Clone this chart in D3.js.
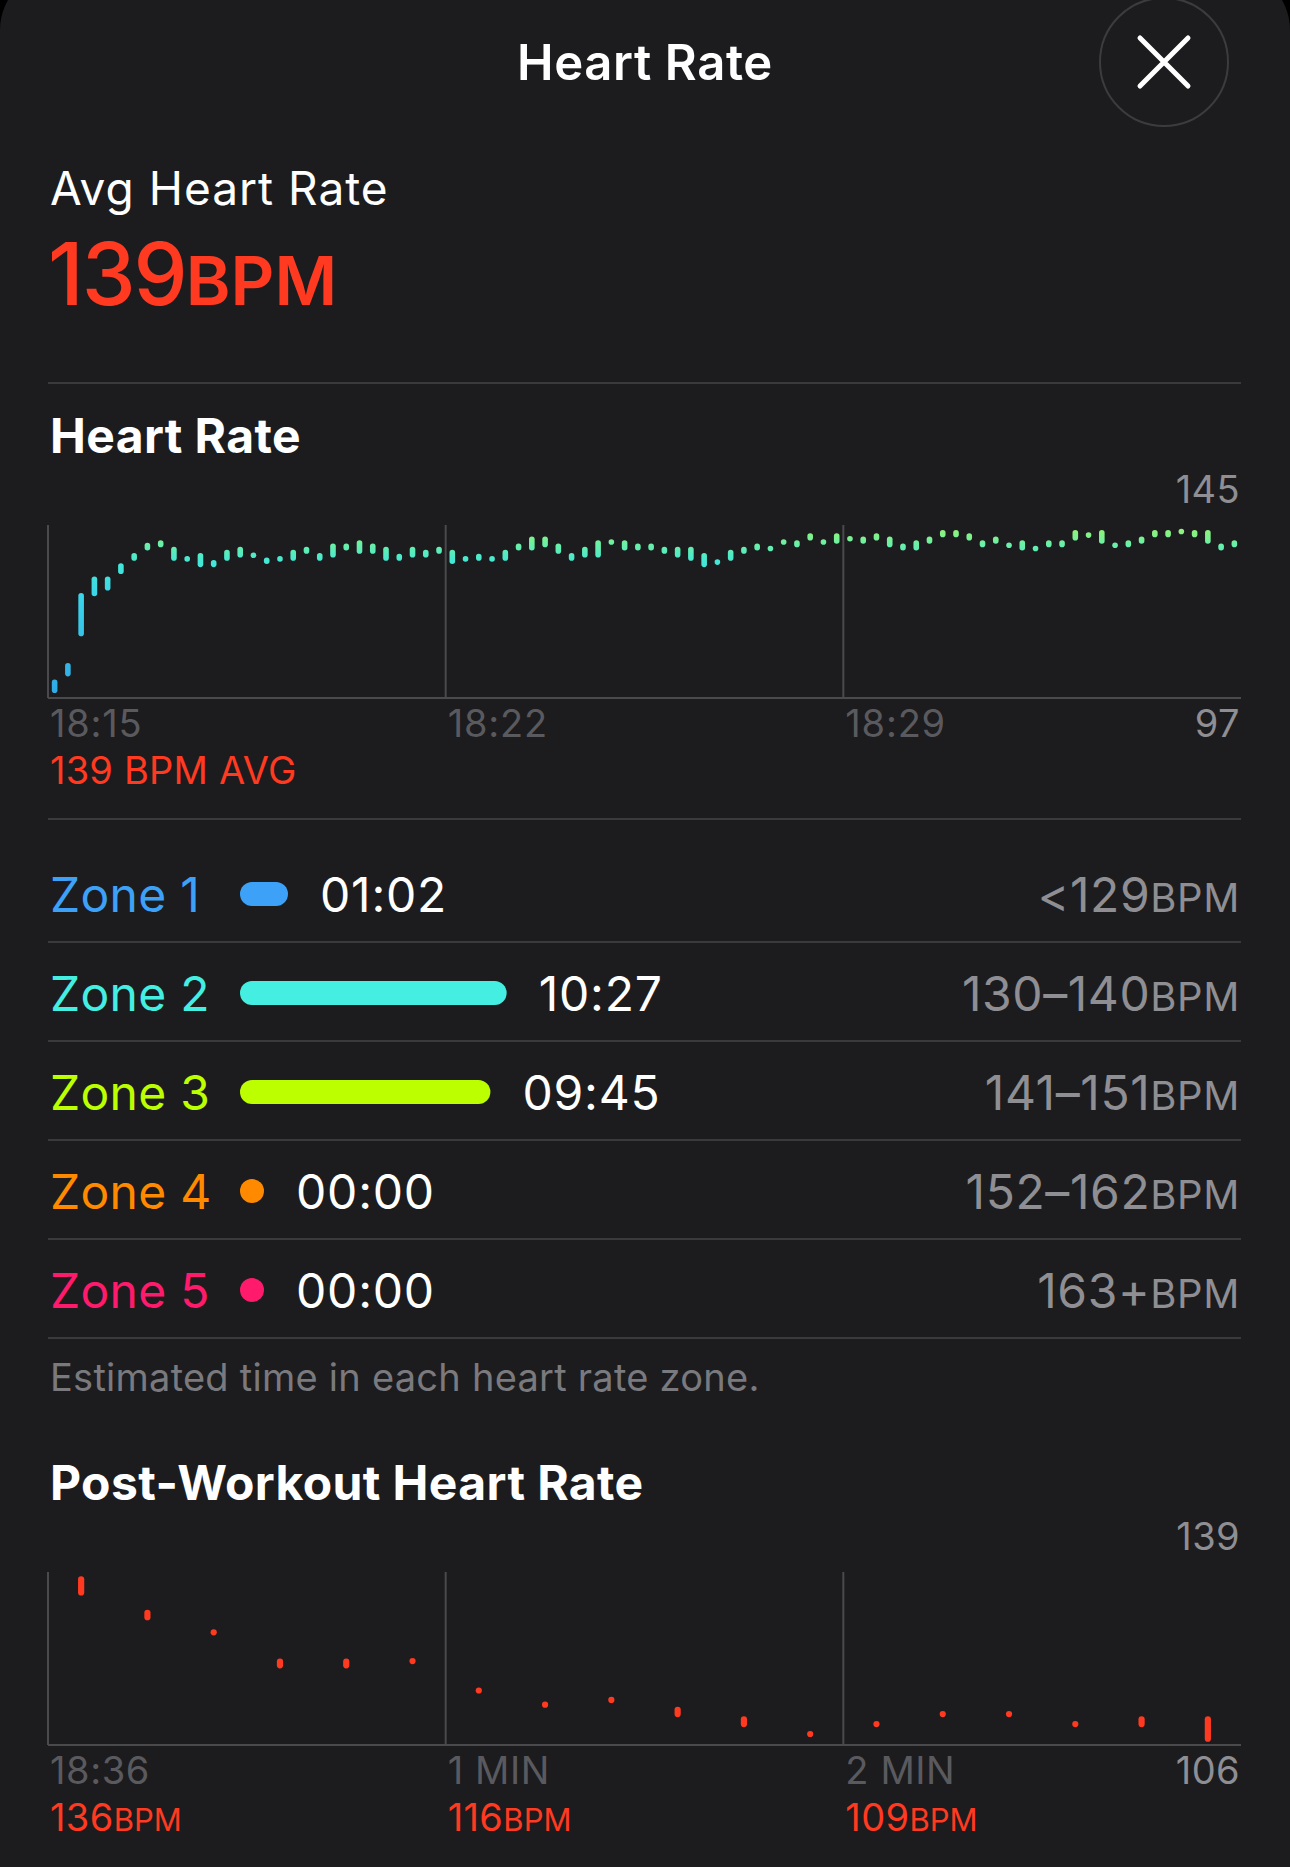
<!DOCTYPE html>
<html>
<head>
<meta charset="utf-8">
<script src="https://cdn.jsdelivr.net/npm/d3@7"></script>
<style>
  html, body { margin: 0; padding: 0; background: #000; }
  svg { display: block; }
  text { font-family: Inter, "Noto Sans", "DejaVu Sans", sans-serif; }
</style>
</head>
<body>
<svg id="chart" width="1290" height="1867"></svg>
<script>
// ---------------- DATA ----------------
const avgHeartRate = 139;
const hrMax = 145, hrMin = 97;
const hrStart = "18:15", hrEnd = "18:36";
const hrTickLabels = ["18:15", "18:22", "18:29"];
const hrBinSeconds = 14;
// [low, high] BPM range of each 14-second bin
const hrRanges = [
  [98.4,102.1],[103.0,106.7],[114.1,126.1],[125.2,130.7],[126.8,130.7],[131.4,134.4],[135.1,137.2],[137.9,140.1],[138.8,140.8],[135.1,139.0],
  [135.6,135.6],[133.3,137.2],[133.3,135.3],[135.1,138.1],[136.0,139.0],[136.6,136.6],[134.2,136.0],[135.6,135.6],[135.1,138.1],[137.0,139.0],
  [135.1,137.2],[136.0,139.9],[137.9,139.9],[137.0,140.8],[137.0,139.9],[135.1,139.0],[135.1,137.0],[136.0,139.0],[136.0,138.1],[137.0,139.0],
  [134.2,138.1],[135.6,135.6],[135.1,137.0],[135.6,135.6],[135.1,138.1],[137.9,139.9],[137.9,141.8],[138.8,141.8],[137.0,139.9],[135.1,137.2],
  [136.0,139.0],[136.0,140.8],[140.3,140.3],[137.9,140.8],[137.9,139.9],[137.9,139.9],[137.0,139.0],[136.0,139.0],[135.1,139.0],[133.3,137.2],
  [134.7,134.7],[135.1,138.1],[137.0,139.0],[137.9,139.9],[138.5,138.5],[140.3,140.3],[138.8,140.8],[140.7,142.7],[140.3,140.3],[139.8,142.7],
  [141.2,141.2],[139.8,141.8],[140.7,142.7],[138.8,141.8],[137.9,139.9],[137.9,140.8],[139.8,141.8],[141.6,143.6],[141.6,143.6],[140.7,142.7],
  [138.8,140.8],[139.8,141.8],[139.4,139.4],[137.9,140.8],[138.5,138.5],[138.8,140.8],[138.8,140.8],[140.7,143.6],[142.2,142.2],[139.8,143.6],
  [139.4,139.4],[138.8,140.8],[139.8,141.8],[141.6,143.6],[141.6,143.6],[143.2,143.2],[141.6,143.6],[139.8,143.6],[137.9,139.9],[138.8,140.8]
];
const hrColorStops = [97, 125, 135, 140, 145];
const hrColors = ["#2fa8e4", "#3bd4ea", "#44e8d6", "#6ef0a2", "#9cf46a"];

const zoneNames = ["Zone 1", "Zone 2", "Zone 3", "Zone 4", "Zone 5"];
const zoneTimes = ["01:02", "10:27", "09:45", "00:00", "00:00"];
const zoneRanges = ["<129", "130–140", "141–151", "152–162", "163+"];
const zoneColors = ["#3da2f7", "#44efe1", "#bcff00", "#ff8a00", "#ff1a6c"];

const postMax = 139, postMin = 106;
const postBinSeconds = 10;
const postDuration = 180;
const postTickSeconds = [0, 60, 120];
const postTickLabels = ["18:36", "1 MIN", "2 MIN"];
const postTickValues = ["136", "116", "109"];
// [low, high] BPM range of each 10-second bin
const postRanges = [
  [134.5,138.2],[129.8,131.8],[127.5,127.5],[120.6,122.5],[120.6,122.5],[122.0,122.0],
  [116.4,116.4],[113.7,113.7],[114.6,114.6],[111.3,113.3],[109.4,111.5],[108.1,108.1],
  [110.0,110.0],[111.9,111.9],[111.9,111.9],[110.0,110.0],[109.4,111.5],[106.6,111.5]
];

// ---------------- LAYOUT ----------------
const W = 1290, H = 1867;
const L = 48, R = 1241;
const red = "#ff3a20";
const dimGray = "#5a5a5e", midGray = "#8e8e93", lineGray = "#3a3a3c", gridGray = "#4a4a4c";

const svg = d3.select("#chart");

// sheet
svg.append("rect").attr("x", 0).attr("y", -30).attr("width", W).attr("height", H + 100)
  .attr("rx", 60).attr("fill", "#1c1c1e");

// title
svg.append("text").attr("x", W / 2).attr("y", 80).attr("text-anchor", "middle")
  .attr("fill", "#fff").attr("font-size", 49).attr("font-weight", 600)
  .attr("letter-spacing", 0.6).text("Heart Rate");

// close button
svg.append("circle").attr("cx", 1164).attr("cy", 62).attr("r", 64)
  .attr("fill", "#1c1c1e").attr("stroke", "#3c3c3e").attr("stroke-width", 2);
svg.append("path").attr("d", "M1140,38 L1188,86 M1188,38 L1140,86")
  .attr("stroke", "#fff").attr("stroke-width", 5).attr("stroke-linecap", "round");

// avg heart rate
svg.append("text").attr("x", 50).attr("y", 205).attr("fill", "#fff")
  .attr("font-size", 46).attr("letter-spacing", 1).text("Avg Heart Rate");
const big = svg.append("text").attr("x", 48).attr("y", 305).attr("fill", red).attr("font-weight", 500);
big.append("tspan").attr("font-size", 86).attr("letter-spacing", -2).text(String(avgHeartRate));
big.append("tspan").attr("font-size", 68).attr("font-weight", 600).text("BPM");

function hline(y) {
  svg.append("line").attr("x1", L).attr("x2", R).attr("y1", y).attr("y2", y)
    .attr("stroke", lineGray).attr("stroke-width", 2);
}
hline(383);

// ---------------- HEART RATE CHART ----------------
svg.append("text").attr("x", 50).attr("y", 453).attr("fill", "#fff")
  .attr("font-size", 48).attr("font-weight", 700).attr("letter-spacing", 0.4).text("Heart Rate");

const parseT = d3.timeParse("%H:%M");
const hrTop = 525, hrBot = 698;
const xHR = d3.scaleTime().domain([parseT(hrStart), parseT(hrEnd)]).range([L, R]);
const yHR = d3.scaleLinear().domain([hrMin, hrMax]).range([hrBot, hrTop]);
const hrColor = d3.scaleLinear().domain(hrColorStops).range(hrColors);

const defs = svg.append("defs");
const grad = defs.append("linearGradient").attr("id", "hrGrad")
  .attr("gradientUnits", "userSpaceOnUse").attr("x1", 0).attr("x2", 0)
  .attr("y1", yHR(hrMin)).attr("y2", yHR(hrMax));
hrColorStops.forEach(v => {
  grad.append("stop").attr("offset", (v - hrMin) / (hrMax - hrMin)).attr("stop-color", hrColor(v));
});

function drawFrame(x, yTop, yBot, tickValues) {
  const g = svg.append("g");
  tickValues.forEach(t => {
    g.append("line").attr("x1", x(t)).attr("x2", x(t)).attr("y1", yTop).attr("y2", yBot)
      .attr("stroke", gridGray).attr("stroke-width", 2);
  });
  g.append("line").attr("x1", L).attr("x2", R).attr("y1", yBot).attr("y2", yBot)
    .attr("stroke", gridGray).attr("stroke-width", 2);
}

const hrTickTimes = hrTickLabels.map(parseT);
drawFrame(xHR, hrTop, hrBot, hrTickTimes);

const hrBarW = 5.6;
svg.append("g").selectAll("rect").data(hrRanges).join("rect")
  .attr("x", (d, i) => xHR(new Date(parseT(hrStart).getTime() + (i + 0.5) * hrBinSeconds * 1000)) - hrBarW / 2)
  .attr("width", hrBarW)
  .attr("y", d => Math.min(yHR(d[1]), (yHR(d[0]) + yHR(d[1])) / 2 - hrBarW / 2))
  .attr("height", d => Math.max(hrBarW, yHR(d[0]) - yHR(d[1])))
  .attr("rx", hrBarW / 2)
  .attr("fill", "url(#hrGrad)");

svg.append("text").attr("x", 1240).attr("y", 503).attr("text-anchor", "end")
  .attr("fill", midGray).attr("font-size", 38).attr("letter-spacing", 0.4).text(String(hrMax));
hrTickLabels.forEach((lab, i) => {
  svg.append("text").attr("x", xHR(hrTickTimes[i]) + 2).attr("y", 737)
    .attr("fill", dimGray).attr("font-size", 38).attr("letter-spacing", 0.8).text(lab);
});
svg.append("text").attr("x", 1240).attr("y", 737).attr("text-anchor", "end")
  .attr("fill", midGray).attr("font-size", 38).attr("letter-spacing", 0.4).text(String(hrMin));
svg.append("text").attr("x", 50).attr("y", 784).attr("fill", red)
  .attr("font-size", 38).attr("letter-spacing", 0.2).text(avgHeartRate + " BPM AVG");

hline(819);

// ---------------- ZONES ----------------
const zoneSecs = zoneTimes.map(t => { const [m, s] = t.split(":").map(Number); return m * 60 + s; });
const pillH = 24;
const pillW = d3.scaleLinear().domain([0, 627]).range([pillH, pillH + 627 * 0.387]);
zoneNames.forEach((name, i) => {
  const cy = 894 + i * 99;
  const base = cy + 17.5;
  svg.append("text").attr("x", 50).attr("y", base).attr("fill", zoneColors[i])
    .attr("font-size", 48).attr("letter-spacing", 0.3).text(name);
  const w = pillW(zoneSecs[i]);
  svg.append("rect").attr("x", 240).attr("y", cy - pillH / 2).attr("width", w).attr("height", pillH)
    .attr("rx", pillH / 2).attr("fill", zoneColors[i]);
  svg.append("text").attr("x", 240 + w + 32).attr("y", base).attr("fill", "#fff")
    .attr("font-size", 48).attr("letter-spacing", 0.8).text(zoneTimes[i]);
  const rt = svg.append("text").attr("x", 1240).attr("y", base).attr("text-anchor", "end")
    .attr("fill", midGray).attr("letter-spacing", 0.6);
  rt.append("tspan").attr("font-size", 48).text(zoneRanges[i]);
  rt.append("tspan").attr("font-size", 40).text("BPM");
  hline(942 + i * 99);
});

svg.append("text").attr("x", 50).attr("y", 1391).attr("fill", "#7a7a7e")
  .attr("font-size", 38).attr("letter-spacing", 0.25).text("Estimated time in each heart rate zone.");

// ---------------- POST-WORKOUT ----------------
svg.append("text").attr("x", 50).attr("y", 1500).attr("fill", "#fff")
  .attr("font-size", 48).attr("font-weight", 700).attr("letter-spacing", 0.4).text("Post-Workout Heart Rate");

const pTop = 1572, pBot = 1745;
const xP = d3.scaleLinear().domain([0, postDuration]).range([L, R]);
const yP = d3.scaleLinear().domain([postMin, postMax]).range([pBot, pTop]);
drawFrame(xP, pTop, pBot, postTickSeconds);

const pBarW = 6.2;
svg.append("g").selectAll("rect").data(postRanges).join("rect")
  .attr("x", (d, i) => xP((i + 0.5) * postBinSeconds) - pBarW / 2)
  .attr("width", pBarW)
  .attr("y", d => Math.min(yP(d[1]), (yP(d[0]) + yP(d[1])) / 2 - pBarW / 2))
  .attr("height", d => Math.max(pBarW, yP(d[0]) - yP(d[1])))
  .attr("rx", pBarW / 2)
  .attr("fill", red);

svg.append("text").attr("x", 1240).attr("y", 1550).attr("text-anchor", "end")
  .attr("fill", midGray).attr("font-size", 38).attr("letter-spacing", 0.4).text(String(postMax));
postTickLabels.forEach((lab, i) => {
  svg.append("text").attr("x", xP(postTickSeconds[i]) + 2).attr("y", 1784)
    .attr("fill", dimGray).attr("font-size", 38).attr("letter-spacing", 0.6).text(lab);
  const t = svg.append("text").attr("x", xP(postTickSeconds[i]) + 2).attr("y", 1831).attr("fill", red);
  t.append("tspan").attr("font-size", 38).attr("letter-spacing", 0.4).text(postTickValues[i]);
  t.append("tspan").attr("font-size", 31).text("BPM");
});
svg.append("text").attr("x", 1240).attr("y", 1784).attr("text-anchor", "end")
  .attr("fill", midGray).attr("font-size", 38).attr("letter-spacing", 0.4).text(String(postMin));
</script>
</body>
</html>
